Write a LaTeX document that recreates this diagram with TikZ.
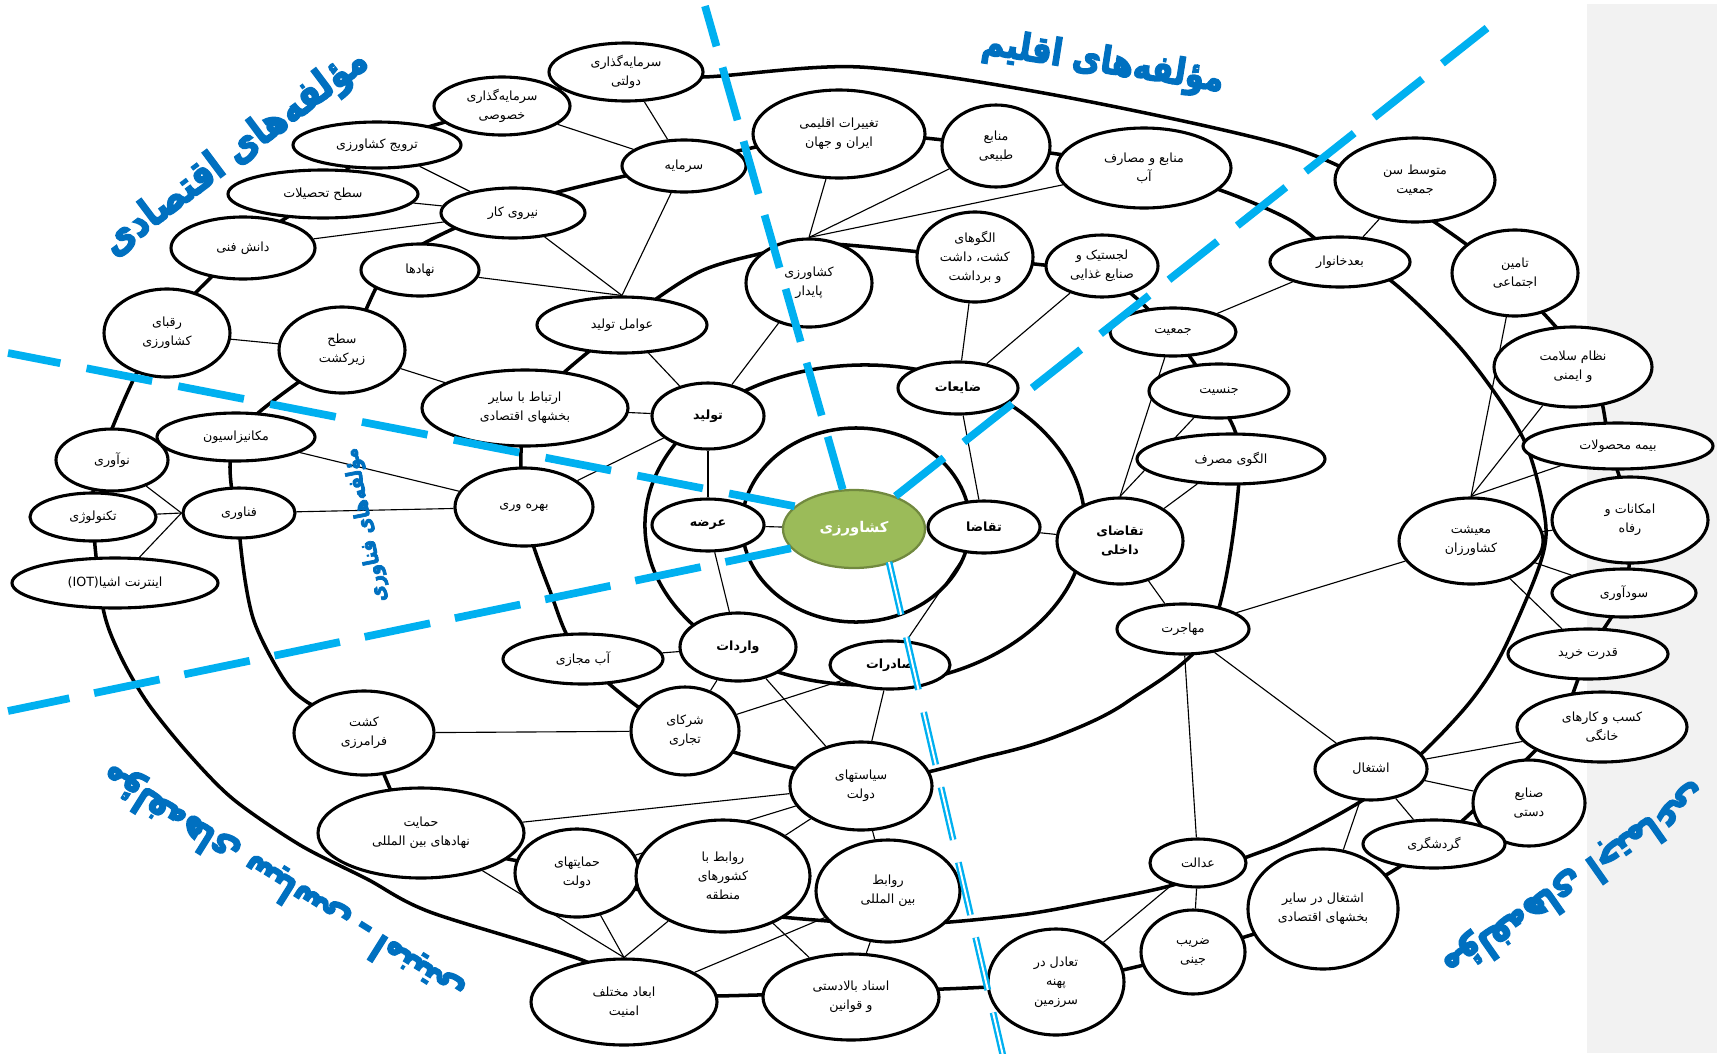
\documentclass[tikz,border=0pt]{standalone}
\usepackage{fontspec}
\usepackage{graphicx}
\usetikzlibrary{shapes.geometric,backgrounds}
\newfontfamily\fa[Script=Arabic]{DejaVu Sans}
\newfontfamily\tfa[Script=Arabic, BoldFeatures={FakeBold=4}]{DejaVu Sans}
\TeXXeTstate=1
\newcommand\RL[1]{\beginR #1\endR}
\newcommand\TT[2]{\resizebox{#1}{!}{\scalebox{1}[1.2]{\RL{#2}}}}
\definecolor{titleblue}{HTML}{0070C0}
\definecolor{dashblue}{HTML}{00B0F0}
\definecolor{agri}{HTML}{9BBB59}
\definecolor{agriedge}{HTML}{71893F}
\definecolor{panelgray}{HTML}{F2F2F2}
\begin{document}
\begin{tikzpicture}[x=0.025cm, y=-0.025cm,
  el/.style={ellipse, draw=black, line width=2.2pt, fill=white, inner sep=0pt, align=center, font=\fa\fontsize{9}{13.5}\selectfont},
  E/.style 2 args={minimum width=#1*0.025cm, minimum height=#2*0.025cm},
  bd/.style={font=\fa\bfseries\fontsize{9}{13.5}\selectfont},
  ring/.style={line width=2.5pt},
  lnk/.style={line width=0.8pt},
  ttl/.style={text=titleblue, font=\tfa\bfseries, inner sep=0pt},
  dsh/.style={dashblue, line width=5.5pt},
]
\useasboundingbox (0,0) rectangle (1717,1053);

% ---------------- nodes ----------------
\node[el,E={154}{58}] (sgd) at (626,72) {\RL{سرمایه‌گذاری}\\\RL{دولتی}};
\node[el,E={136}{58}] (sgk) at (502,106) {\RL{سرمایه‌گذاری}\\\RL{خصوصی}};
\node[el,E={168}{46}] (trw) at (377,145) {\RL{ترویج کشاورزی}};
\node[el,E={190}{48}] (stt) at (323,194) {\RL{سطح تحصیلات}};
\node[el,E={144}{62}] (dfn) at (243,248) {\RL{دانش فنی}};
\node[el,E={126}{88}] (rqb) at (167,333) {\RL{رقبای}\\\RL{کشاورزی}};
\node[el,E={126}{86}] (szk) at (342,350) {\RL{سطح}\\\RL{زیرکشت}};
\node[el,E={118}{52}] (nhd) at (420,270) {\RL{نهادها}};
\node[el,E={144}{50}] (nk) at (513,213) {\RL{نیروی کار}};
\node[el,E={124}{52}] (srm) at (684,166) {\RL{سرمایه}};
\node[el,E={170}{56}] (avt) at (622,325) {\RL{عوامل تولید}};
\node[el,E={206}{76}] (ert) at (525,408) {\RL{ارتباط با سایر}\\\RL{بخشهای اقتصادی}};
\node[el,bd,E={112}{66}] (tol) at (708,416) {\RL{تولید}};
\node[el,E={138}{78}] (bhr) at (524,507) {\RL{بهره وری}};
\node[el,bd,E={112}{52}] (arz) at (708,525) {\RL{عرضه}};
\node[el,bd,E={116}{68}] (vrd) at (738,647) {\RL{واردات}};
\node[el,E={160}{50}] (abm) at (583,659) {\RL{آب مجازی}};
\node[el,E={142}{78}, fill=agri, draw=agriedge, line width=1.6pt, text=white, font=\fa\bfseries\fontsize{10.5}{13}\selectfont] (kes) at (854,529) {\RL{کشاورزی}};
\node[el,E={158}{48}] (mkn) at (236,437) {\RL{مکانیزاسیون}};
\node[el,E={112}{62}] (nov) at (112,460) {\RL{نوآوری}};
\node[el,E={126}{48}] (tkn) at (93,517) {\RL{تکنولوژی}};
\node[el,E={112}{50}] (fnv) at (239,513) {\RL{فناوری}};
\node[el,E={206}{50}] (iot) at (115,583) {(IOT)\RL{اینترنت اشیا}};
\node[el,E={140}{84}] (kfm) at (364,733) {\RL{کشت}\\\RL{فرامرزی}};
\node[el,E={108}{88}] (sht) at (685,731) {\RL{شرکای}\\\RL{تجاری}};
\node[el,E={142}{88}] (sid) at (861,786) {\RL{سیاستهای}\\\RL{دولت}};
\node[el,E={206}{90}] (hnb) at (421,833) {\RL{حمایت}\\\RL{نهادهای بین المللی}};
\node[el,E={124}{88}] (hdl) at (577,873) {\RL{حمایتهای}\\\RL{دولت}};
\node[el,E={174}{112}] (rkm) at (723,876) {\RL{روابط با}\\\RL{کشورهای}\\\RL{منطقه}};
\node[el,E={144}{102}] (rbm) at (888,891) {\RL{روابط}\\\RL{بین المللی}};
\node[el,E={186}{86}] (abd) at (624,1002) {\RL{ابعاد مختلف}\\\RL{امنیت}};
\node[el,E={176}{86}] (asn) at (851,997) {\RL{اسناد بالادستی}\\\RL{و قوانین}};
\node[el,E={172}{88}] (tgh) at (839,134) {\RL{تغییرات اقلیمی}\\\RL{ایران و جهان}};
\node[el,E={108}{82}] (mtb) at (996,146) {\RL{منابع}\\\RL{طبیعی}};
\node[el,E={174}{80}] (mab) at (1144,168) {\RL{منابع و مصارف}\\\RL{آب}};
\node[el,E={126}{88}] (kpy) at (809,283) {\RL{کشاورزی}\\\RL{پایدار}};
\node[el,E={116}{90}] (alk) at (975,257) {\RL{الگوهای}\\\RL{کشت، داشت}\\\RL{و برداشت}};
\node[el,E={112}{62}] (ljs) at (1102,266) {\RL{لجستیک و}\\\RL{صنایع غذایی}};
\node[el,E={126}{48}] (jmt) at (1173,332) {\RL{جمعیت}};
\node[el,bd,E={120}{52}] (zyt) at (958,388) {\RL{ضایعات}};
\node[el,bd,E={112}{52}] (tqz) at (984,527) {\RL{تقاضا}};
\node[el,bd,E={126}{86}] (tqd) at (1120,541) {\RL{تقاضای}\\\RL{داخلی}};
\node[el,E={140}{54}] (jns) at (1219,391) {\RL{جنسیت}};
\node[el,E={188}{50}] (alm) at (1231,459) {\RL{الگوی مصرف}};
\node[el,E={132}{50}] (mhj) at (1183,629) {\RL{مهاجرت}};
\node[el,bd,E={120}{48}] (sdr) at (890,665) {\RL{صادرات}};
\node[el,E={160}{84}] (mts) at (1415,180) {\RL{متوسط سن}\\\RL{جمعیت}};
\node[el,E={140}{50}] (bkh) at (1340,262) {\RL{بعدخانوار}};
\node[el,E={126}{86}] (tej) at (1515,273) {\RL{تامین}\\\RL{اجتماعی}};
\node[el,E={158}{80}] (nsi) at (1573,367) {\RL{نظام سلامت}\\\RL{و ایمنی}};
\node[el,E={190}{46}] (bmh) at (1618,446) {\RL{بیمه محصولات}};
\node[el,E={156}{86}] (emk) at (1630,520) {\RL{امکانات و}\\\RL{رفاه}};
\node[el,E={144}{48}] (sod) at (1624,593) {\RL{سودآوری}};
\node[el,E={160}{50}] (qdk) at (1588,654) {\RL{قدرت خرید}};
\node[el,E={170}{70}] (ksb) at (1602,727) {\RL{کسب و کارهای}\\\RL{خانگی}};
\node[el,E={144}{86}] (mak) at (1471,541) {\RL{معیشت}\\\RL{کشاورزان}};
\node[el,E={112}{62}] (esh) at (1371,769) {\RL{اشتغال}};
\node[el,E={112}{86}] (snd) at (1529,803) {\RL{صنایع}\\\RL{دستی}};
\node[el,E={142}{48}] (grd) at (1434,844) {\RL{گردشگری}};
\node[el,E={150}{120}] (esb) at (1323,909) {\RL{اشتغال در سایر}\\\RL{بخشهای اقتصادی}};
\node[el,E={96}{48}] (edl) at (1198,863) {\RL{عدالت}};
\node[el,E={104}{84}] (zrb) at (1193,952) {\RL{ضریب}\\\RL{جینی}};
\node[el,E={136}{106}] (tdl) at (1056,982) {\RL{تعادل در}\\\RL{پهنه}\\\RL{سرزمین}};

% ---------------- background: panel, rings, links ----------------
\begin{pgfonlayer}{background}
\fill[panelgray] (1587,4) rectangle (1717,1053);
% inner ring and second ring
\draw[ring] (856,525) ellipse [x radius=2.85cm, y radius=2.425cm];
\draw[ring] (865,525) ellipse [x radius=5.5cm, y radius=4cm];
% third ring
\draw[ring] plot[smooth cycle] coordinates {(622,325) (697,273) (763,253) (815,243) (975,258) (1102,276) (1168,330) (1212,391) (1240,459) (1212,628) (1127,702) (1060,735) (993,755) (861,780) (685,735) (583,659) (550,591) (524,507) (530,410)};
% fourth ring
\draw[ring] plot[smooth cycle] coordinates {(684,163) (839,134) (996,146) (1144,168) (1220,190) (1290,220) (1340,258) (1390,280) (1463,351) (1523,438) (1545,518) (1540,564) (1503,651) (1470,702) (1420,755) (1363,800) (1290,840) (1247,857) (1173,885) (1093,902) (1027,914) (950,922) (888,925) (723,910) (577,873) (421,833) (364,733) (307,702) (283,678) (253,618) (240,539) (236,437) (345,345) (395,262) (513,205)};
% outer ring
\draw[ring] plot[smooth cycle] coordinates {(626,72) (703,77) (860,67) (1060,96) (1290,147) (1400,200) (1505,275) (1590,370) (1610,446) (1630,520) (1624,593) (1588,654) (1560,722) (1510,775) (1434,844) (1323,909) (1193,952) (1056,982) (851,992) (624,995) (587,962) (430,912) (367,879) (300,845) (233,799) (187,752) (147,702) (120,655) (103,608) (93,517) (100,460) (155,340) (243,248) (323,194) (377,145) (502,106)};
% thin links
\draw[lnk] (sgd) -- (srm);
\draw[lnk] (sgk) -- (srm);
\draw[lnk] (trw) -- (nk);
\draw[lnk] (stt) -- (nk);
\draw[lnk] (dfn) -- (nk);
\draw[lnk] (nhd) -- (avt.north);
\draw[lnk] (nk) -- (avt.north);
\draw[lnk] (srm) -- (avt.north);
\draw[lnk] (szk) -- (ert);
\draw[lnk] (rqb) -- (szk);
\draw[lnk] (avt) -- (tol);
\draw[lnk] (kpy) -- (tol);
\draw[lnk] (ert) -- (tol);
\draw[lnk] (bhr) -- (tol);
\draw[lnk] (tol) -- (arz);
\draw[lnk] (arz) -- (kes);
\draw[lnk] (arz) -- (vrd);
\draw[lnk] (mkn) -- (bhr);
\draw[lnk] (fnv) -- (bhr);
\draw[lnk] (nov) -- (fnv.west);
\draw[lnk] (tkn) -- (fnv.west);
\draw[lnk] (iot) -- (fnv.west);
\draw[lnk] (vrd) -- (abm);
\draw[lnk] (vrd) -- (sht);
\draw[lnk] (vrd) -- (sid);
\draw[lnk] (sdr) -- (sht);
\draw[lnk] (sdr) -- (sid);
\draw[lnk] (zyt) -- (tqz);
\draw[lnk] (tqz) -- (sdr);
\draw[lnk] (tqz) -- (tqd);
\draw[lnk] (alk) -- (zyt);
\draw[lnk] (ljs) -- (zyt);
\draw[lnk] (tqd.north) -- (jmt);
\draw[lnk] (tqd.north) -- (jns);
\draw[lnk] (tqd) -- (alm);
\draw[lnk] (tqd) -- (mhj);
\draw[lnk] (mhj) -- (mak);
\draw[lnk] (mhj) -- (edl);
\draw[lnk] (mhj) -- (esh);
\draw[lnk] (tgh) -- (kpy.north);
\draw[lnk] (mtb) -- (kpy.north);
\draw[lnk] (mab) -- (kpy.north);
\draw[lnk] (jmt) -- (bkh);
\draw[lnk] (mts) -- (bkh);
\draw[lnk] (tej) -- (mak.north);
\draw[lnk] (nsi) -- (mak.north);
\draw[lnk] (bmh) -- (mak.north);
\draw[lnk] (emk) -- (mak);
\draw[lnk] (sod) -- (mak);
\draw[lnk] (qdk) -- (mak);
\draw[lnk] (ksb) -- (esh);
\draw[lnk] (snd) -- (esh);
\draw[lnk] (grd) -- (esh);
\draw[lnk] (esh) -- (esb);
\draw[lnk] (edl) -- (zrb);
\draw[lnk] (edl) -- (tdl);
\draw[lnk] (kfm) -- (sht);
\draw[lnk] (sid) -- (hnb);
\draw[lnk] (sid) -- (hdl);
\draw[lnk] (sid) -- (rkm);
\draw[lnk] (sid) -- (rbm);
\draw[lnk] (hnb) -- (abd.north);
\draw[lnk] (hdl) -- (abd.north);
\draw[lnk] (rkm) -- (abd.north);
\draw[lnk] (rkm) -- (asn);
\draw[lnk] (rbm) -- (abd);
\draw[lnk] (rbm) -- (asn);
\end{pgfonlayer}

% ---------------- blue dividers ----------------
\coordinate (bA) at (705,6);
\coordinate (bB0) at (889,562);
\coordinate (bB1) at (1004,1060);
\coordinate (bC) at (1487,28);
\coordinate (bD) at (8,353);
\coordinate (bE) at (8,711);
\draw[dsh, dash pattern=on 39pt off 15.6pt] (kes) -- (bA);
\draw[dashblue, line width=1.7pt, double=white, double distance=1.4pt, dash pattern=on 38.4pt off 16.4pt] (bB0) -- (bB1);
\draw[dsh, dash pattern=on 44pt off 18pt] (kes) -- (bC);
\draw[dsh, dash pattern=on 47.5pt off 19pt] (kes.159) -- (bD);
\draw[dsh, dash pattern=on 47.5pt off 18pt] (kes.197) -- (bE);

% ---------------- titles ----------------
\node[ttl, rotate=36.8] (tEco) at (236,153) {\TT{8cm}{مؤلفه‌های اقتصادی}};
\node[ttl, rotate=-9] (tCli) at (1103,63) {\TT{6.1cm}{مؤلفه‌های اقلیم}};
\node[ttl, rotate=101] (tTec) at (366,525) {\TT{3.9cm}{مؤلفه‌های فناوری}};
\node[ttl, rotate=148] (tPol) at (283,884) {\TT{10.5cm}{مؤلفه‌های سیاسی ـ امنیتی}};
\node[ttl, rotate=215] (tSoc) at (1575,880) {\TT{7.8cm}{مؤلفه‌های اجتماعی}};
\end{tikzpicture}
\end{document}
